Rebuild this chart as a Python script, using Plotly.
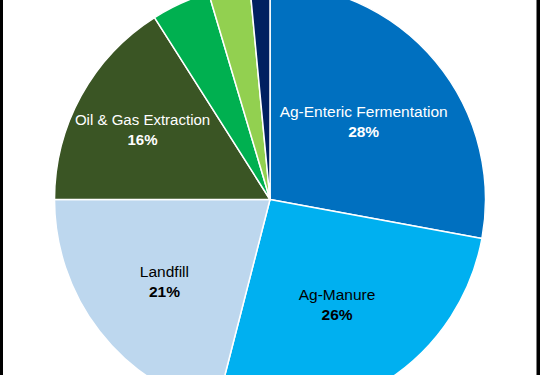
import plotly.graph_objects as go

labels = ["Ag-Enteric Fermentation", "Ag-Manure", "Landfill", "Oil & Gas Extraction",
          "Coal Mining", "Wastewater", "Other"]
values = [27.9, 26.1, 21.0, 16.0, 4.4, 3.1, 1.5]
colors = ["#0070C0", "#00B0F0", "#BDD7EE", "#3A5524", "#00B050", "#92D050", "#002060"]
text_colors = ["white", "black", "black", "white", "white", "white", "white"]
show_label = [True, True, True, True, False, False, False]

templates = ["%{label}<br><b>%{percent:.0%}</b>" if s else "" for s in show_label]

fig = go.Figure(go.Pie(
    labels=labels,
    values=values,
    sort=False,
    direction="clockwise",
    rotation=0,
    marker=dict(colors=colors, line=dict(color="white", width=1.5)),
    texttemplate=templates,
    textposition="inside",
    insidetextorientation="horizontal",
    textfont=dict(family="Liberation Sans, Arial, sans-serif", size=15.5, color=text_colors),
    hoverinfo="label+percent",
    domain=dict(x=[0, 1], y=[0, 1]),
))

fig.update_layout(
    width=540,
    height=431,
    margin=dict(l=0, r=0, t=0, b=0),
    paper_bgcolor="white",
    showlegend=False,
    shapes=[
        dict(type="rect", xref="paper", yref="paper", x0=0, x1=3/540, y0=0, y1=1,
             fillcolor="black", line=dict(width=0), layer="above"),
        dict(type="rect", xref="paper", yref="paper", x0=536.5/540, x1=1, y0=0, y1=1,
             fillcolor="black", line=dict(width=0), layer="above"),
    ],
)

post = ("document.documentElement.style.overflow='hidden';"
        "document.body.style.margin='0';document.body.style.overflow='hidden';"
        "var d=document.getElementById('{plot_id}');d.style.marginTop='-16px';")

fig.write_html("out.html", post_script=post, config={"displayModeBar": False})
